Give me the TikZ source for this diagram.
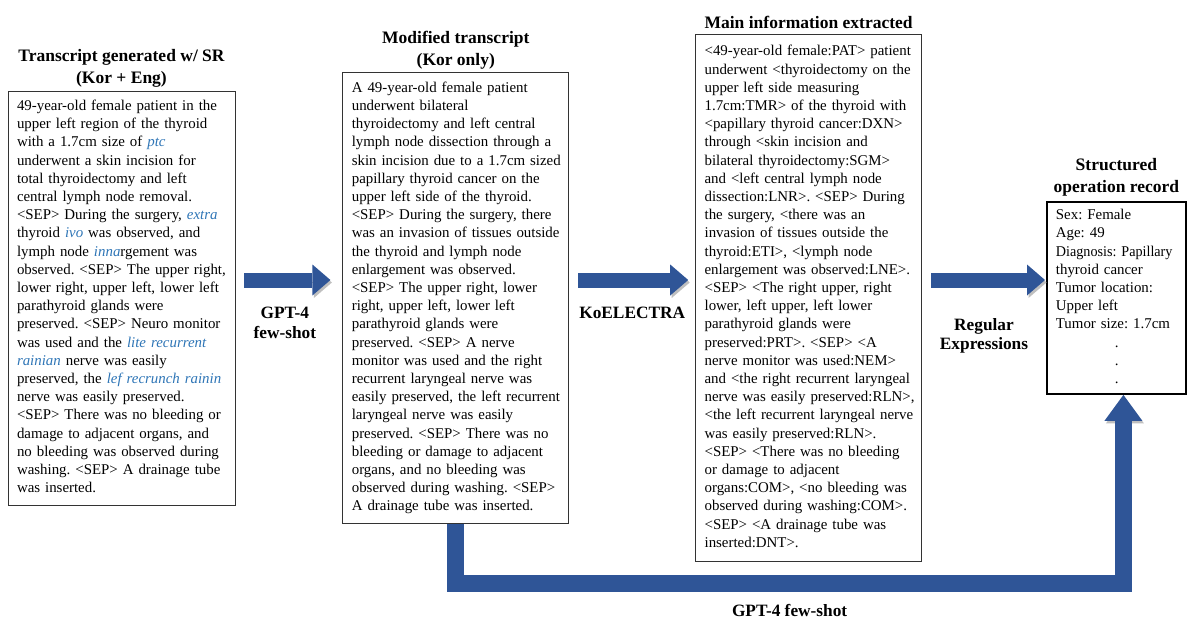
\documentclass[tikz,border=0pt]{standalone}
\usepackage{fontspec}
\setmainfont{Liberation Serif}
\usepackage{xcolor}
\usetikzlibrary{calc,positioning,arrows.meta}
\definecolor{flowblue}{RGB}{47,85,151}
\definecolor{srblue}{RGB}{46,117,182}
\newcommand{\srword}[1]{\textcolor{srblue}{\textit{#1}}}
\frenchspacing

\begin{document}
\begin{tikzpicture}[x=1pt,y=-1pt,
  txtbox/.style={draw=black!80, line width=0.8pt, align=left, inner xsep=9pt, inner ysep=4pt,
    font=\fontsize{14.9}{18.2}\selectfont},
  boxtitle/.style={align=center, inner sep=2pt, font=\bfseries\fontsize{17.5}{22}\selectfont},
  lbl/.style={align=center, font=\bfseries\fontsize{17.3}{19.5}\selectfont},
  flow/.style={flowblue, line width=15pt, -{Triangle[width=31pt,length=18pt,line width=0pt]},
    preaction={draw=black!25, transform canvas={shift={(1.5pt,-2.5pt)}}}},
  bigflow/.style={flow, line width=17pt, -{Triangle[width=38pt,length=26pt,line width=0pt]}}
]
\useasboundingbox (0,0) rectangle (1188,618);

% transcript boxes
\node[txtbox, text width=209pt, minimum height=414pt] (srbox) at (121.5,298) {%
\begin{tabular}{@{}l@{}}
49-year-old female patient in the\\
upper left region of the thyroid\\
with a 1.7cm size of \srword{ptc}\\
underwent a skin incision for\\
total thyroidectomy and left\\
central lymph node removal.\\
<SEP> During the surgery, \srword{extra}\\
thyroid \srword{ivo} was observed, and\\
lymph node \srword{inna}rgement was\\
observed. <SEP> The upper right,\\
lower right, upper left, lower left\\
parathyroid glands were\\
preserved. <SEP> Neuro monitor\\
was used and the \srword{lite recurrent}\\
\srword{rainian} nerve was easily\\
preserved, the \srword{lef recrunch rainin}\\
nerve was easily preserved.\\
<SEP> There was no bleeding or\\
damage to adjacent organs, and\\
no bleeding was observed during\\
washing. <SEP> A drainage tube\\
was inserted.
\end{tabular}};

\node[txtbox, text width=208pt, minimum height=451pt, right=107pt of srbox] (korbox) {%
\begin{tabular}{@{}l@{}}
A 49-year-old female patient\\
underwent bilateral\\
thyroidectomy and left central\\
lymph node dissection through a\\
skin incision due to a 1.7cm sized\\
papillary thyroid cancer on the\\
upper left side of the thyroid.\\
<SEP> During the surgery, there\\
was an invasion of tissues outside\\
the thyroid and lymph node\\
enlargement was observed.\\
<SEP> The upper right, lower\\
right, upper left, lower left\\
parathyroid glands were\\
preserved. <SEP> A nerve\\
monitor was used and the right\\
recurrent laryngeal nerve was\\
easily preserved, the left recurrent\\
laryngeal nerve was easily\\
preserved. <SEP> There was no\\
bleeding or damage to adjacent\\
organs, and no bleeding was\\
observed during washing. <SEP>\\
A drainage tube was inserted.
\end{tabular}};

\node[txtbox, text width=208pt, minimum height=527pt, right=126pt of korbox] (nerbox) {%
\begin{tabular}{@{}l@{}}
<49-year-old female:PAT> patient\\
underwent <thyroidectomy on the\\
upper left side measuring\\
1.7cm:TMR> of the thyroid with\\
<papillary thyroid cancer:DXN>\\
through <skin incision and\\
bilateral thyroidectomy:SGM>\\
and <left central lymph node\\
dissection:LNR>. <SEP> During\\
the surgery, <there was an\\
invasion of tissues outside the\\
thyroid:ETI>, <lymph node\\
enlargement was observed:LNE>.\\
<SEP> <The right upper, right\\
lower, left upper, left lower\\
parathyroid glands were\\
preserved:PRT>. <SEP> <A\\
nerve monitor was used:NEM>\\
and <the right recurrent laryngeal\\
nerve was easily preserved:RLN>,\\
<the left recurrent laryngeal nerve\\
was easily preserved:RLN>.\\
<SEP> <There was no bleeding\\
or damage to adjacent\\
organs:COM>, <no bleeding was\\
observed during washing:COM>.\\
<SEP> <A drainage tube was\\
inserted:DNT>.
\end{tabular}};

\node[txtbox, draw=black, line width=1.8pt, text width=121pt, minimum height=192pt, right=124pt of nerbox] (recbox) {%
\begin{tabular}{@{}l@{}}
Sex: Female\\
Age: 49\\
{\addfontfeature{FakeStretch=0.95}Diagnosis: Papillary}\\
thyroid cancer\\
Tumor location:\\
Upper left\\
Tumor size: 1.7cm\\
\hspace*{59pt}.\\
\hspace*{59pt}.\\
\hspace*{59pt}.
\end{tabular}};

% titles
\node[boxtitle, above=1pt of srbox] (srtitle) {Transcript generated w/ SR\\(Kor + Eng)};
\node[boxtitle, above=1pt of korbox] (kortitle) {Modified transcript\\(Kor only)};
\node[boxtitle, above=3pt of nerbox] (nertitle) {Main information extracted};
\node[boxtitle, above=3pt of recbox] (rectitle) {Structured\\operation record};

% flow arrows
\draw[flow] ($(srbox.east)+(9,-18)$) -- ($(korbox.west)+(-12,-18)$);
\node[lbl] (gptlbl) at ($(srbox.east)!0.5!(korbox.west)+(-4,25)$) {GPT-4\\few-shot};

\draw[flow] ($(korbox.east)+(9,-18)$) -- ($(nerbox.west)+(-7,-18)$);
\node[lbl] (electralbl) at ($(korbox.east)!0.5!(nerbox.west)+(0,15)$) {KoELECTRA};

\draw[flow] ($(nerbox.east)+(9,-18)$) -- ($(recbox.west)+(-1,-18)$);
\node[lbl] (regexlbl) at ($(nerbox.east)!0.5!(recbox.west)+(0,38)$) {Regular\\Expressions};

\coordinate (bendl) at ($(korbox.south)+(0,60)$);
\coordinate (rectip) at ([xshift=7pt]recbox.south);
\coordinate (bendr) at (bendl -| rectip);
\draw[bigflow] (korbox.south) -- (bendl) -| (rectip);
\node[lbl, below=17pt] (gptbotlbl) at ($(bendl)!0.5!(bendr)$) {GPT-4 few-shot};

\end{tikzpicture}
\end{document}
